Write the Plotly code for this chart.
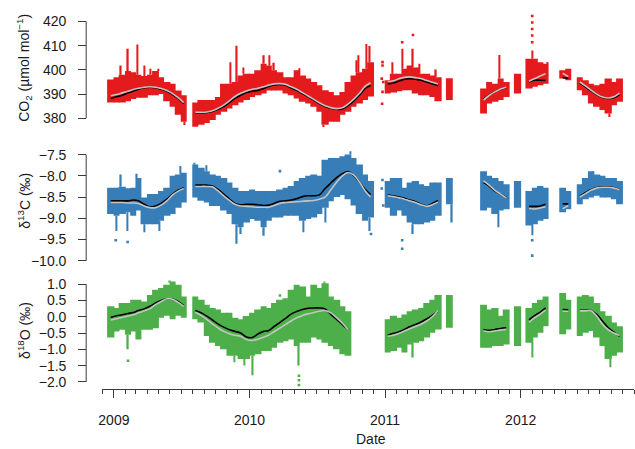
import pandas as pd
import plotly.graph_objects as go

N = None

# Half-month bins (1st and 15th of each month), Dec 2008 - Oct 2012
bin_start = pd.date_range("2008-12-01", "2012-10-15", freq="SMS")

# ---- CO2 (umol mol-1): upper / lower edge of the bulk of the observations per bin
co2_hi = [N, 396, 397, 398, 399.5, 399, 398, 397.5, 398, 399.5, 397, 395, 394.3, 391.5, 389.5, N,
          386.5, 387.5, 387.5, 387.5, 388.8, 394.3, 394.3, 395, 397.7, 398.4,
          398.4, 399.8, 402.5, 401.8, 399.8, 399, 397, 397, 399.8, 397.7, 396.4, 395, 393.6, 391.6, 390.9, 389.5,
          390.9, 395, 397.7, 399, 400.5, 403.2, N, N,
          395.7, 398.4, 398.4, 400.5, 401.8, 401, 398.4, 398.4, 397.7, 397, N, 396.5, N, N, N, N, N, 392.3,
          395, 394.3, 396.4, 395, N, 398.4,
          N, 404.6, 404.6, 403.2, 402.5, N, N, 399.8, 400.5, N, 397, 395.7, 394.3, 393.6, 394.3, 396.4, 395, 396.4, N, N]
co2_lo = [N, 386.5, 386.5, 386.5, 387, 388, 388.5, 388.5, 389.5, 389.5, 390, 387, 384.8, 381.4, 378.6, N,
          376.5, 377.3, 378, 379.3, 381.4, 382.7, 384, 385.4, 386.5, 387.5,
          388.8, 389.5, 390.2, 391.5, 391.5, 391.5, 390.2, 389.5, 388.2, 386.8, 386.1, 384.8, 382.7, 377.3, 378.6, 378.6,
          381.4, 382.7, 384.8, 386.1, 387.5, 389, N, N,
          390.2, 390.6, 391.2, 391.6, 391.6, 390.2, 389.5, 389.5, 388.8, 387, N, 387.5, N, N, N, N, N, 382,
          386.1, 386.8, 387.5, 388.8, N, 390.2,
          N, 392.3, 393, 393.6, 394.3, N, N, 396.4, 395.7, N, 391.6, 389.5, 386.1, 384.8, 383.4, 382, 385.4, 386.8, N, N]
# smoothed curves (black and grey)
co2_fit = [N, 388.2, 388.9, 389.5, 390.5, 391.2, 392, 392.6, 392.8, 392.6, 392, 391.2, 389.8, 388.2, 386.1, N,
           382.3, 382.3, 382.4, 382.8, 383.7, 384.8, 386.5, 388.2, 389.5, 390.6,
           391.2, 391.5, 392.3, 393.2, 393.8, 394, 393.6, 392.5, 391.6, 390.2, 388.9, 387.5, 386.1, 384.9, 384.1, 383.7,
           383.8, 385.2, 387.1, 389.5, 392.3, 393.4, N, N,
           394.3, 394.6, 395.4, 396.1, 396.4, 396.1, 395.7, 395, 394.3, 393.6, N, 391.5, N, N, N, N, N, 387.9,
           389.5, 390.9, 392, 392.6, N, 393.6,
           N, 395, 395.7, 395.7, 395.6, N, N, 396.8, 396.6, N, 394.5, 393, 391.3, 389.8, 388.6, 388.2, 388.5, 389.8, N, N]
co2_fit_b = [N, 389.3, 389.8, 390.5, 391.2, 391.9, 392.4, 392.8, 393, 392.8, 392.3, 391.5, 390.2, 388.5, 386.5, N,
             382.5, 382.5, 382.6, 383.1, 384.1, 385.4, 387.2, 389, 390.3, 391.3,
             392, 392.4, 393, 393.7, 394.2, 394.3, 394, 393, 392, 390.6, 389.2, 387.8, 386.4, 385.2, 384.4, 384,
             384.3, 385.8, 387.8, 390.2, 393.2, 394.7, N, N,
             395.1, 395.5, 396.4, 396.9, 397.1, 396.8, 396.4, 395.6, 394.9, 394.2, N, 391.5, N, N, N, N, N, 387.5,
             389.4, 390.9, 392.1, 392.8, N, 393.6,
             N, 395.3, 396.4, 397.5, 398.4, N, N, 398.6, 397.2, N, 395, 393.4, 391.6, 390, 388.8, 388.4, 388.9, 390.4, N, N]
co2_streaks = [("2009-01-20", 401.8), ("2009-02-08", 408.7), ("2009-03-05", 410.5), ("2009-03-25", 401.8),
               ("2009-04-10", 400.5), ("2009-04-30", 400.5), ("2009-07-10", 377.2), ("2009-11-10", 403.2),
               ("2009-11-28", 410), ("2009-12-16", 401), ("2010-02-09", 406), ("2010-02-23", 406),
               ("2010-03-08", 403), ("2010-05-15", 400.7), ("2010-07-20", 376.5), ("2010-10-17", 404),
               ("2010-10-21", 406), ("2010-11-12", 410.7), ("2010-11-21", 409.9), ("2011-01-21", 403.2),
               ("2011-02-16", 408.7), ("2011-03-17", 408.7), ("2011-04-04", 402.5), ("2011-05-18", 400.2),
               ("2011-11-05", 406.2), ("2012-02-01", 408), ("2012-03-13", 403.2), ("2012-08-27", 380.5)]
co2_dots = [("2011-02-16", 411.4), ("2011-03-17", 414.4), ("2012-02-01", 411.4), ("2012-02-01", 414.2),
            ("2012-02-01", 416.9), ("2012-02-01", 419.6), ("2012-02-01", 422.3), ("2010-12-25", 403.2),
            ("2010-12-25", 401.8), ("2010-12-23", 396.4), ("2010-12-27", 395), ("2010-12-25", 390.9),
            ("2010-12-24", 386)]

# ---- d13C (permil)
d13c_hi = [N, -8.28, -8.28, -8.26, -8.29, -8.28, -8.05, -8.51, -8.43, -8.43, -8.36, -8.28, -8.0, -7.97, -7.93, N,
           -7.73, -7.81, -7.89, -7.97, -8.0, -8.05, -8.16, -8.28, -8.36, -8.36,
           -8.32, -8.36, -8.36, -8.36, -8.36, -8.32, -8.28, -8.24, -8.12, -8.05, -8.0, -7.97, -8.0, -7.62, -7.58, -7.58,
           -7.54, -7.5, -7.58, -7.73, -7.97, -8.12, N, N,
           -8.12, -8.05, -8.05, -8.28, -8.16, -8.12, -8.2, -8.24, -8.16, -8.16, N, -8.05, N, N, N, N, N, -7.89,
           -8.0, -8.05, -8.12, -8.2, N, -8.12,
           N, -8.36, -8.28, -8.24, -8.28, N, N, -8.28, -8.36, N, -8.2, -8.05, -7.89, -7.97, -8.0, -8.05, -8.05, -8.12, N, N]
d13c_lo = [N, -8.9, -8.94, -8.9, -8.86, -8.94, -8.82, -9.14, -9.14, -9.14, -9.06, -8.94, -8.9, -8.75, -8.63, N,
           -8.51, -8.59, -8.63, -8.71, -8.71, -8.82, -8.9, -9.14, -9.21, -9.1,
           -9.02, -9.06, -9.21, -9.06, -8.98, -8.98, -8.94, -8.94, -8.94, -9.06, -9.02, -8.98, -8.9, -8.75, -8.6, -8.5,
           -8.45, -8.55, -8.7, -8.9, -9.06, -8.98, N, N,
           -8.75, -8.94, -8.82, -8.94, -9.1, -9.14, -9.14, -9.1, -9.06, -8.94, N, -8.67, N, N, N, N, N, -8.82,
           -8.75, -8.9, -8.82, -8.79, N, -8.75,
           N, -9.17, -9.14, -9.06, -9.02, N, N, -8.86, -8.79, N, -8.67, -8.55, -8.51, -8.47, -8.51, -8.51, -8.55, -8.67, N, N]
d13c_fit = [N, -8.59, -8.59, -8.59, -8.59, -8.57, -8.59, -8.67, -8.73, -8.71, -8.65, -8.55, -8.43, -8.34, -8.28, N,
            -8.22, -8.22, -8.22, -8.24, -8.32, -8.43, -8.55, -8.65, -8.68, -8.67,
            -8.67, -8.68, -8.7, -8.69, -8.65, -8.6, -8.59, -8.57, -8.54, -8.49, -8.47, -8.47, -8.45, -8.3, -8.17, -8.04,
            -7.95, -7.9, -7.99, -8.14, -8.32, -8.44, N, N,
            -8.45, -8.47, -8.5, -8.53, -8.57, -8.61, -8.67, -8.71, -8.65, -8.58, N, -8.4, N, N, N, N, N, -8.16,
            -8.24, -8.36, -8.43, -8.51, N, -8.6,
            N, -8.72, -8.72, -8.71, -8.67, N, N, -8.66, -8.66, N, -8.48, -8.4, -8.33, -8.28, -8.26, -8.26, -8.28, -8.32, N, N]
d13c_fit_b = [N, -8.63, -8.63, -8.63, -8.64, -8.64, -8.65, -8.71, -8.75, -8.75, -8.69, -8.59, -8.45, -8.36, -8.3, N,
              -8.25, -8.25, -8.25, -8.26, -8.35, -8.47, -8.58, -8.67, -8.71, -8.72,
              -8.73, -8.74, -8.74, -8.74, -8.7, -8.65, -8.63, -8.62, -8.61, -8.6, -8.59, -8.58, -8.55, -8.5, -8.33, -8.15,
              -8.0, -7.92, -7.98, -8.14, -8.35, -8.5, N, N,
              -8.47, -8.49, -8.52, -8.55, -8.59, -8.63, -8.68, -8.72, -8.68, -8.62, N, -8.4, N, N, N, N, N, -8.12,
              -8.22, -8.34, -8.43, -8.52, N, -8.62,
              N, -8.77, -8.78, -8.76, -8.73, N, N, -8.78, -8.7, N, -8.5, -8.42, -8.34, -8.29, -8.27, -8.27, -8.29, -8.33, N, N]
d13c_streaks = [("2009-01-08", -9.3), ("2009-01-20", -7.97), ("2009-02-07", -9.3), ("2009-03-04", -7.95),
                ("2009-03-25", -9.33), ("2009-05-04", -9.3), ("2009-06-29", -7.77), ("2009-08-06", -7.7),
                ("2009-09-07", -7.75), ("2009-11-28", -9.6), ("2009-12-09", -9.37), ("2010-02-09", -9.41),
                ("2010-05-27", -9.33), ("2010-09-29", -7.42), ("2010-11-21", -9.3), ("2011-03-17", -9.37),
                ("2011-06-30", -9.1), ("2011-11-02", -9.21), ("2012-02-01", -9.4), ("2012-07-15", -7.89),
                ("2010-07-25", -9.1)]
d13c_dots = [("2009-01-06", -9.52), ("2009-02-07", -9.56), ("2010-03-24", -7.89), ("2011-02-16", -9.52),
             ("2011-02-16", -9.72), ("2012-02-01", -9.52), ("2012-02-01", -9.88), ("2010-11-24", -9.37),
             ("2010-12-25", -8.1), ("2010-12-23", -8.3), ("2010-12-27", -8.7)]

# ---- d18O (permil)
d18o_hi = [N, 0.32, 0.27, 0.42, 0.42, 0.52, 0.52, 0.47, 0.67, 0.83, 0.88, 0.98, 1.08, 0.98, 0.62, N,
           0.62, 0.52, 0.37, 0.27, 0.22, 0.12, 0.12, -0.03, -0.08, 0.02,
           0.12, 0.22, 0.32, 0.27, 0.42, 0.52, 0.57, 0.83, 0.98, 0.93, 0.62, 0.98, 0.88, 1.03, 0.62, 0.52,
           0.32, 0.17, N, N, N, N, N, N,
           -0.08, 0.03, -0.03, 0.07, 0.17, 0.22, 0.27, 0.42, 0.52, 0.67, N, 0.67, N, N, N, N, N, 0.37,
           0.22, 0.27, 0.03, 0.22, N, 0.32,
           N, 0.27, 0.42, 0.52, 0.62, N, N, 0.73, 0.52, N, 0.62, 0.67, 0.62, 0.42, 0.17, 0.03, -0.18, -0.29, N, N]
d18o_lo = [N, -0.64, -0.45, -0.4, -0.55, -0.45, -0.7, -0.4, -0.4, -0.35, -0.03, 0.03, -0.08, 0.03, -0.03, N,
           -0.08, -0.18, -0.59, -0.8, -0.9, -1.0, -1.2, -1.2, -1.3, -1.3,
           -1.2, -1.15, -1.05, -1.05, -0.95, -0.8, -0.75, -0.7, -0.9, -0.8, -0.8, -0.64, -0.7, -0.8, -0.9, -1.0,
           -1.15, -1.2, N, N, N, N, N, N,
           -1.1, -1.05, -0.95, -1.1, -0.85, -0.8, -0.75, -0.64, -0.49, -0.39, N, -0.34, N, N, N, N, N, -0.95,
           -0.95, -0.9, -0.9, -0.85, N, -0.9,
           N, -0.8, -0.64, -0.49, -0.29, N, N, -0.54, -0.39, N, -0.59, -0.49, -0.44, -0.64, -0.9, -1.3, -1.2, -1.1, N, N]
d18o_fit = [N, -0.02, 0.03, 0.06, 0.1, 0.13, 0.19, 0.24, 0.32, 0.42, 0.5, 0.55, 0.54, 0.47, 0.34, N,
            0.19, 0.12, 0.02, -0.1, -0.22, -0.32, -0.4, -0.45, -0.5, -0.62,
            -0.64, -0.53, -0.45, -0.42, -0.3, -0.18, -0.05, 0.08, 0.16, 0.22, 0.26, 0.27, 0.27, 0.24, 0.07, -0.08,
            -0.24, -0.39, N, N, N, N, N, N,
            -0.57, -0.51, -0.46, -0.39, -0.31, -0.24, -0.16, -0.07, 0.04, 0.17, N, 0.13, N, N, N, N, N, -0.39,
            -0.42, -0.39, -0.36, -0.34, N, -0.27,
            N, -0.1, 0.04, 0.14, 0.27, N, N, 0.22, 0.21, N, 0.2, 0.2, 0.19, 0.07, -0.13, -0.33, -0.47, -0.6, N, N]
d18o_fit_b = [N, -0.1, -0.06, -0.02, 0.02, 0.06, 0.12, 0.18, 0.25, 0.37, 0.47, 0.55, 0.54, 0.44, 0.32, N,
              0.14, 0.04, -0.08, -0.22, -0.34, -0.45, -0.52, -0.57, -0.6, -0.7,
              -0.73, -0.69, -0.63, -0.56, -0.46, -0.35, -0.24, -0.13, -0.03, 0.04, 0.09, 0.13, 0.17, 0.19, 0.12, -0.03,
              -0.2, -0.39, N, N, N, N, N, N,
              -0.6, -0.57, -0.51, -0.44, -0.37, -0.3, -0.23, -0.13, 0.0, 0.19, N, 0.1, N, N, N, N, N, -0.44,
              -0.46, -0.44, -0.41, -0.39, N, -0.3,
              N, -0.17, -0.03, 0.08, 0.2, N, N, 0.17, 0.17, N, 0.18, 0.18, 0.18, 0.02, -0.23, -0.4, -0.5, -0.58, N, N]
d18o_streaks = [("2009-02-08", -1.0), ("2009-11-22", -1.4), ("2009-12-18", -1.5), ("2010-01-10", -1.8),
                ("2010-05-14", -1.5), ("2010-07-21", 1.08), ("2011-03-17", -1.25), ("2012-02-01", -1.25),
                ("2012-08-30", -1.55), ("2009-06-01", 1.1)]
d18o_dots = [("2009-02-08", -1.35), ("2010-03-24", 0.65), ("2010-05-14", -1.81), ("2010-05-14", -1.95),
             ("2010-05-14", -2.1)]

for arr in (co2_hi, co2_lo, co2_fit, co2_fit_b, d13c_hi, d13c_lo, d13c_fit, d13c_fit_b,
            d18o_hi, d18o_lo, d18o_fit, d18o_fit_b):
    assert len(arr) == len(bin_start), len(arr)

RED, BLUE, GREEN = "#E41A1C", "#377EB8", "#4DAF4A"
AX = "#3a3a3a"
TXT = "#1a1a1a"
FONT = "Liberation Sans, Arial, Helvetica, sans-serif"
W, H = 635, 449

bin_end = list(bin_start[1:]) + [pd.Timestamp("2012-11-01")]
centers = [s + (e - s) / 2 for s, e in zip(bin_start, bin_end)]
# slight overlap so neighbouring bins join without hairline gaps
widths = [(e - s).total_seconds() * 1000 * 1.15 for s, e in zip(bin_start, bin_end)]
DAY_MS = 86400 * 1000

fig = go.Figure()


def add_panel(hi, lo, fit, fit_b, streaks, dots, color, yax):
    # bulk of the observations in each bin
    heights = [h - l if h is not None else None for h, l in zip(hi, lo)]
    fig.add_trace(go.Bar(x=centers, y=heights, base=lo, width=widths, yaxis=yax,
                         marker=dict(color=color, line=dict(width=0)), hoverinfo="skip"))
    # short excursions beyond the bulk
    sx, sy, sb = [], [], []
    for d, v in streaks:
        t = pd.Timestamp(d)
        i = bin_start.searchsorted(t, side="right") - 1
        if hi[i] is None:
            continue
        edge = hi[i] if v > hi[i] else lo[i]
        sx.append(t)
        sb.append(min(edge, v))
        sy.append(abs(v - edge))
    fig.add_trace(go.Bar(x=sx, y=sy, base=sb, width=[3.5 * DAY_MS] * len(sx), yaxis=yax,
                         marker=dict(color=color, line=dict(width=0)), hoverinfo="skip"))
    # isolated observations
    fig.add_trace(go.Scatter(x=[pd.Timestamp(d) for d, _ in dots], y=[v for _, v in dots],
                             mode="markers", yaxis=yax, hoverinfo="skip",
                             marker=dict(symbol="square", size=2.6, color=color, line=dict(width=0))))
    # smoothed curves
    fig.add_trace(go.Scatter(x=centers, y=fit, mode="lines", yaxis=yax, connectgaps=False,
                             line=dict(color="black", width=1.6, shape="spline"), hoverinfo="skip"))
    fig.add_trace(go.Scatter(x=centers, y=fit_b, mode="lines", yaxis=yax, connectgaps=False,
                             line=dict(color="#c4c4c4", width=1.6, shape="spline"), hoverinfo="skip"))


add_panel(co2_hi, co2_lo, co2_fit, co2_fit_b, co2_streaks, co2_dots, RED, "y")
add_panel(d13c_hi, d13c_lo, d13c_fit, d13c_fit_b, d13c_streaks, d13c_dots, BLUE, "y2")
add_panel(d18o_hi, d18o_lo, d18o_fit, d18o_fit_b, d18o_streaks, d18o_dots, GREEN, "y3")

AXIS_X = 82.7 / W


def ydomain(top_px, bottom_px):
    return [1 - bottom_px / H, 1 - top_px / H]


ycommon = dict(anchor="free", position=AXIS_X, showline=False, showgrid=False, zeroline=False,
               ticks="outside", ticklen=8, tickwidth=1, tickcolor=AX, ticklabelstandoff=9,
               tickfont=dict(family=FONT, size=14, color=TXT))

co2_ticks = [380, 390, 400, 410, 420]
d13c_ticks = [-10.0, -9.5, -9.0, -8.5, -8.0, -7.5]
d18o_ticks = [-2.0, -1.5, -1.0, -0.5, 0.0, 0.5, 1.0]

fig.update_layout(
    width=W, height=H,
    margin=dict(l=0, r=0, t=0, b=0),
    paper_bgcolor="white", plot_bgcolor="white",
    showlegend=False, barmode="overlay",
    font=dict(family=FONT, size=14, color=TXT),
    xaxis=dict(domain=[99 / W, 634 / W], range=["2008-12-01", "2012-11-01"],
               anchor="free", position=1 - 391.7 / H,
               showline=True, linecolor=AX, linewidth=1, showgrid=False, zeroline=False,
               ticks="outside", ticklen=8, tickwidth=1, tickcolor=AX,
               tick0="2009-01-01", dtick="M12", tickformat="%Y", ticklabelstandoff=10,
               minor=dict(ticks="outside", ticklen=4, tickwidth=1, tickcolor=AX,
                          dtick="M1", tick0="2008-12-01", showgrid=False),
               tickfont=dict(family=FONT, size=14, color=TXT)),
    yaxis=dict(domain=ydomain(8, 131), range=[374.8, 425.2], tickvals=co2_ticks, **ycommon),
    yaxis2=dict(domain=ydomain(147, 268), range=[-10.14, -7.313], tickvals=d13c_ticks,
                tickformat=".1f", **ycommon),
    yaxis3=dict(domain=ydomain(279, 389), range=[-2.143, 1.204], tickvals=d18o_ticks,
                tickformat=".1f", **ycommon),
)

# axis lines spanning the tick range only
for yref, ticks in (("y", co2_ticks), ("y2", d13c_ticks), ("y3", d18o_ticks)):
    fig.add_shape(type="line", xref="paper", yref=yref, x0=AXIS_X, x1=AXIS_X,
                  y0=min(ticks), y1=max(ticks), line=dict(color=AX, width=1))

titles = [("CO<sub>2</sub> (µmol mol<sup>−1</sup>)", 67.5),
          ("δ<sup>13</sup>C (‰)", 201.7),
          ("δ<sup>18</sup>O (‰)", 332)]
for text, ypx in titles:
    fig.add_annotation(text=text, xref="paper", yref="paper", x=20 / W, y=1 - ypx / H,
                       textangle=-90, showarrow=False, xanchor="center", yanchor="middle",
                       font=dict(family=FONT, size=14, color=TXT))
fig.add_annotation(text="Date", xref="paper", yref="paper", x=369 / W, y=1 - 442 / H,
                   showarrow=False, xanchor="center", yanchor="middle",
                   font=dict(family=FONT, size=14, color=TXT))

fig.write_html("out.html")
